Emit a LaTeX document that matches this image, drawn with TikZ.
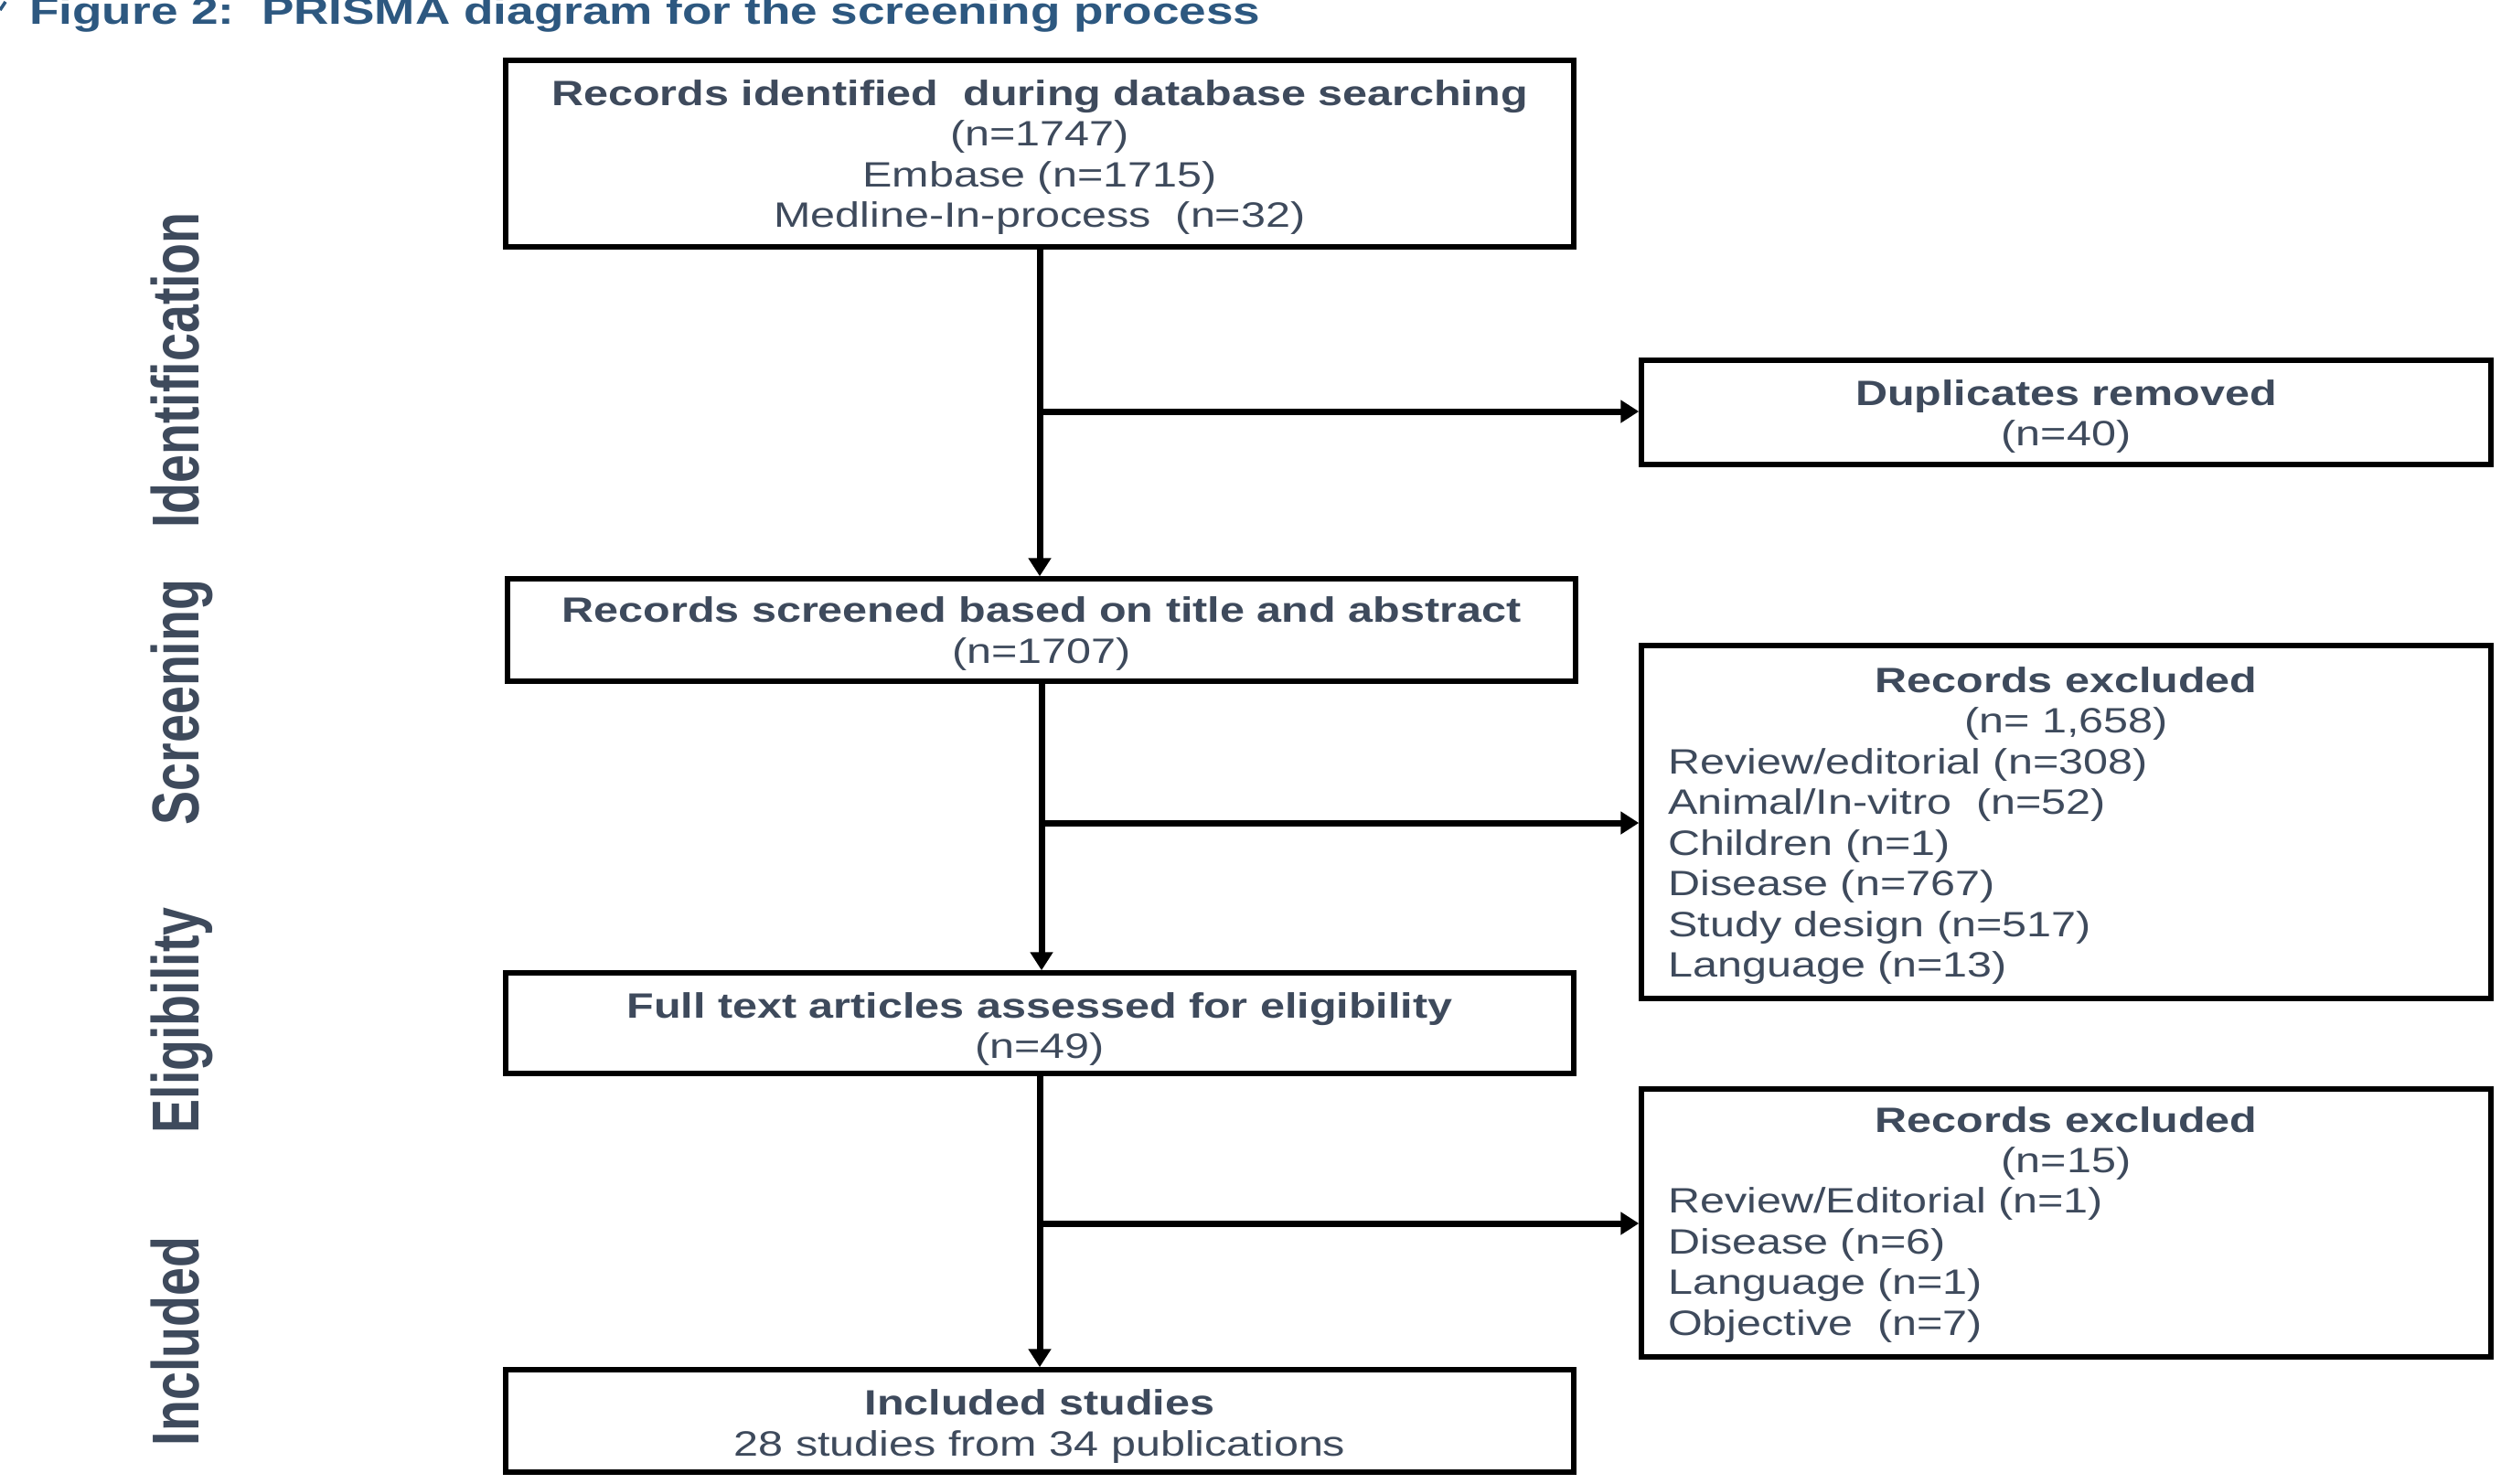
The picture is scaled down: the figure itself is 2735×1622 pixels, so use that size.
\documentclass[tikz,border=0pt]{standalone}
\usepackage{fontspec}
\usetikzlibrary{arrows.meta}
\newfontfamily\boxfont[FakeStretch=1.26]{Liberation Sans}
\newfontfamily\labfont[FakeStretch=0.765]{Liberation Sans}
\newfontfamily\ttlfont[FakeStretch=1.28]{Liberation Sans}
\definecolor{txt}{RGB}{62,74,92}
\definecolor{ttl}{RGB}{45,88,128}
\begin{document}
\begin{tikzpicture}[x=1pt,y=-1pt,
  box/.style={draw=black, line width=5.5pt, inner sep=0pt},
  ln/.style={font=\boxfont\fontsize{38.5}{44.5}\selectfont, text=txt, inner sep=0pt, anchor=base},
  lnl/.style={ln, anchor=base west},
  hd/.style={ln, font=\boxfont\bfseries\fontsize{38.5}{44.5}\selectfont},
  lab/.style={font=\labfont\bfseries\fontsize{72.6}{80}\selectfont, text=txt, rotate=90, inner sep=0pt, anchor=base},
  arr/.style={line width=7pt, -{Triangle[length=20pt,width=24pt]}},
  plainln/.style={line width=7pt}
]
\useasboundingbox (0,0) rectangle (2735,1622);
\clip (0,0) rectangle (2735,1622);
\fill[white] (0,0) rectangle (2735,1622);

% title
\draw[ttl, line width=3.5pt] (0,11) -- (6,2);
\node[font=\ttlfont\bfseries\fontsize{41.5}{48}\selectfont, text=ttl, anchor=base west, inner sep=0pt] (title) at (32,26) {Figure 2:\ \ PRISMA diagram for the screening process};

% stage labels
\node[lab] (lid) at (217,405) {Identification};
\node[lab] (lsc) at (217,768) {Screening};
\node[lab] (lel) at (217,1116) {Eligibility};
\node[lab] (lin) at (217,1467) {Included};

% boxes
\node[box, minimum width=1168pt, minimum height=204pt] (b1) at (1137,168) {};
\node[box, minimum width=929pt, minimum height=114pt] (dup) at (2259.5,451) {};
\node[box, minimum width=1168pt, minimum height=112pt] (b2) at (1139,689) {};
\node[box, minimum width=929pt, minimum height=386pt] (ex1) at (2259.5,899) {};
\node[box, minimum width=1168pt, minimum height=110pt] (b3) at (1137,1119) {};
\node[box, minimum width=929pt, minimum height=293pt] (ex2) at (2259.5,1337.5) {};
\node[box, minimum width=1168pt, minimum height=112pt] (b4) at (1137,1554) {};

% box texts
\node[hd] (b1a) at (1137,115) {Records identified\ \ during database searching};
\node[ln] (b1b) at (1137,159.5) {(n=1747)};
\node[ln] (b1c) at (1137,204) {Embase (n=1715)};
\node[ln] (b1d) at (1137,248.5) {Medline-In-process\ \ (n=32)};

\node[hd] (dupa) at (2259.5,443) {Duplicates removed};
\node[ln] (dupb) at (2259.5,487) {(n=40)};

\node[hd] (b2a) at (1139,680) {Records screened based on title\ and abstract};
\node[ln] (b2b) at (1139,725) {(n=1707)};

\node[hd] (ex1a) at (2259.5,757) {Records excluded};
\node[ln] (ex1b) at (2259.5,801.5) {(n=\ 1,658)};
\node[lnl] (ex1c) at (1824,846) {Review/editorial (n=308)};
\node[lnl] (ex1d) at (1824,890.5) {Animal/In-vitro\ \ (n=52)};
\node[lnl] (ex1e) at (1824,935) {Children (n=1)};
\node[lnl] (ex1f) at (1824,979.5) {Disease (n=767)};
\node[lnl] (ex1g) at (1824,1024) {Study design (n=517)};
\node[lnl] (ex1h) at (1824,1068.5) {Language (n=13)};

\node[hd] (b3a) at (1137,1113) {Full text articles assessed for eligibility};
\node[ln] (b3b) at (1137,1157) {(n=49)};

\node[hd] (ex2a) at (2259.5,1238) {Records excluded};
\node[ln] (ex2b) at (2259.5,1282) {(n=15)};
\node[lnl] (ex2c) at (1824,1326.5) {Review/Editorial (n=1)};
\node[lnl] (ex2d) at (1824,1371) {Disease (n=6)};
\node[lnl] (ex2e) at (1824,1415.5) {Language (n=1)};
\node[lnl] (ex2f) at (1824,1460) {Objective\ \ (n=7)};

\node[hd] (b4a) at (1137,1547) {Included studies};
\node[ln] (b4b) at (1137,1592) {28 studies from 34 publications};

% connectors
\coordinate (j1) at (1138,450);
\coordinate (j2) at (1138,900);
\coordinate (j3) at (1138,1338);
\draw[arr] (b1.south) -- (b1.south |- b2.north);
\draw[arr] (b2.south) -- (b2.south |- b3.north);
\draw[arr] (b3.south) -- (b3.south |- b4.north);
\draw[arr] (j1) -- (j1 -| dup.west);
\draw[arr] (j2) -- (j2 -| ex1.west);
\draw[arr] (j3) -- (j3 -| ex2.west);
\end{tikzpicture}
\end{document}
